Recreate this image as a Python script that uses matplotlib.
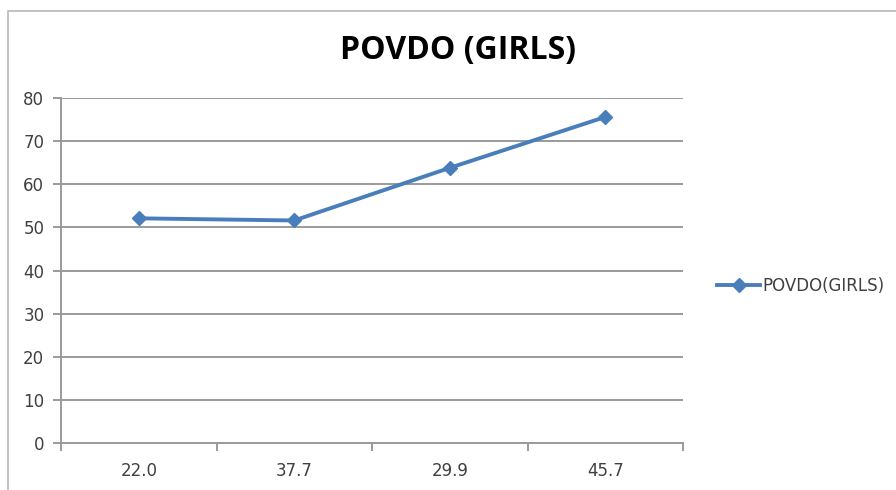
import matplotlib
matplotlib.use("Agg")
import matplotlib.pyplot as plt
from matplotlib.lines import Line2D
from matplotlib.patches import Rectangle

categories = ["22.0", "37.7", "29.9", "45.7"]
values = [52.1, 51.6, 63.8, 75.6]
series_name = "POVDO(GIRLS)"
title = "POVDO (GIRLS)"
yticks = [0, 10, 20, 30, 40, 50, 60, 70, 80]

blue = "#4a7ebb"
grid_col = "#9a9a9a"
text_col = "#404040"

fig = plt.figure(figsize=(8.96, 4.9), dpi=100)
fig.patch.set_facecolor("white")

# outer chart frame
fig.add_artist(Rectangle((7.5 / 896, -0.05), 1.0, 1 - 10.5 / 490 + 0.05,
                         transform=fig.transFigure, fill=False,
                         edgecolor="#b8b8b8", linewidth=1.2))

ax = fig.add_axes([61 / 896, 1 - 443 / 490, (683 - 61) / 896, (443 - 98) / 490])
x = range(len(categories))
ax.plot(x, values, color=blue, linewidth=2.8, marker="D", markersize=7,
        markeredgecolor=blue, label=series_name, solid_capstyle="round")

ax.set_xlim(-0.5, len(categories) - 0.5)
ax.set_ylim(0, 80)
ax.set_yticks(yticks)
ax.set_xticks(list(x))
ax.set_xticklabels(categories)
ax.set_xticks([i - 0.5 for i in range(len(categories) + 1)], minor=True)

ax.yaxis.grid(True, color=grid_col, linewidth=1.4)
ax.set_axisbelow(True)
for s in ["top", "right"]:
    ax.spines[s].set_visible(False)
for s in ["left", "bottom"]:
    ax.spines[s].set_color(grid_col)
    ax.spines[s].set_linewidth(1.4)

ax.tick_params(axis="y", length=6, width=1.4, color=grid_col, labelsize=12,
               labelcolor=text_col, pad=6)
ax.tick_params(axis="x", which="major", length=0, labelsize=12,
               labelcolor=text_col, pad=14)
ax.tick_params(axis="x", which="minor", length=6, width=1.4, color=grid_col)

fig.text(458 / 896, 1 - 50 / 490, title, ha="center", va="center",
         fontsize=23, fontweight="bold", family="Open Sans", color="black")

handle = Line2D([], [], color=blue, linewidth=2.8, marker="D", markersize=7)
fig.legend([handle], [series_name], loc="center left",
           bbox_to_anchor=(702 / 896, 1 - 286 / 490), frameon=False,
           fontsize=12, handlelength=2.6, handletextpad=0.1,
           labelcolor=text_col)

fig.savefig("out.png", dpi=100, facecolor="white")
